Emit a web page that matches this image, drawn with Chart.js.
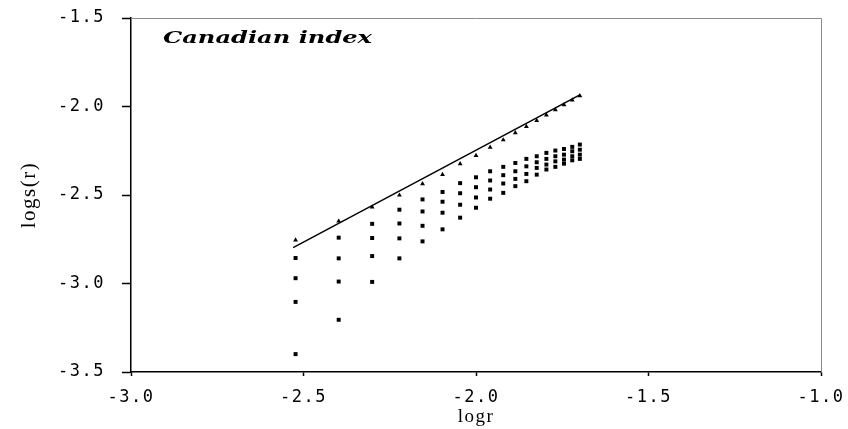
<!DOCTYPE html>
<html lang="en">
<head>
    <meta charset="UTF-8">
    <title>Canadian index</title>
    <script src="https://cdn.jsdelivr.net/npm/chart.js"></script>
    <style>
        html, body { margin: 0; padding: 0; background: #fff; }
        #wrap { width: 848px; height: 429px; }
    </style>
</head>
<body>
    <div id="wrap"><canvas id="chart" width="848" height="429"></canvas></div>

    <script>
        // log r for each column of points
        const logR = [-2.523, -2.398, -2.301, -2.222, -2.155, -2.097, -2.046, -2.000, -1.959,
                      -1.921, -1.886, -1.854, -1.824, -1.796, -1.770, -1.745, -1.721, -1.699];

        // log s(r), one array per series (top to bottom)
        const series1 = [-2.755, -2.648, -2.569, -2.501, -2.437, -2.385, -2.324, -2.277, -2.231,
                         -2.189, -2.149, -2.113, -2.080, -2.048, -2.019, -1.991, -1.964, -1.940];
        const series2 = [-2.856, -2.741, -2.663, -2.583, -2.525, -2.483, -2.433, -2.400, -2.366,
                         -2.341, -2.319, -2.296, -2.281, -2.262, -2.249, -2.240, -2.228, -2.215];
        const series3 = [-2.970, -2.858, -2.743, -2.661, -2.593, -2.538, -2.490, -2.456, -2.418,
                         -2.388, -2.366, -2.338, -2.315, -2.296, -2.281, -2.272, -2.253, -2.244];
        const series4 = [-3.104, -2.989, -2.845, -2.745, -2.674, -2.600, -2.555, -2.514, -2.469,
                         -2.435, -2.409, -2.381, -2.347, -2.328, -2.310, -2.300, -2.281, -2.272];
        const series5 = [-3.399, -3.205, -2.991, -2.858, -2.762, -2.694, -2.628, -2.572, -2.521,
                         -2.488, -2.450, -2.422, -2.385, -2.356, -2.341, -2.323, -2.304, -2.296];

        // fitted line end points
        const fitX = [-2.530, -1.699];
        const fitY = [-2.797, -1.934];

        const xTicks = [-3.0, -2.5, -2.0, -1.5, -1.0];
        const yTicks = [-3.5, -3.0, -2.5, -2.0, -1.5];
        const chartTitle = 'Canadian index';

        function pts(ys) {
            return ys.map((y, i) => ({ x: logR[i], y: y }));
        }

        const tickFont = { family: '"DejaVu Sans Mono"', size: 17 };

        // frame on top/right, spaced text, and the stretched italic title
        const decor = {
            id: 'decor',
            beforeDraw(chart) {
                chart.ctx.letterSpacing = '1.5px';
            },
            afterDraw(chart) {
                const ctx = chart.ctx;
                const a = chart.chartArea;
                ctx.save();
                ctx.letterSpacing = '0px';
                ctx.strokeStyle = '#8a8a8a';
                ctx.lineWidth = 1;
                ctx.beginPath();
                ctx.moveTo(a.left, a.top + 0.5);
                ctx.lineTo(a.right + 0.5, a.top + 0.5);
                ctx.lineTo(a.right + 0.5, a.bottom);
                ctx.stroke();

                ctx.font = 'bold italic 16px "DejaVu Serif"';
                ctx.fillStyle = '#000';
                ctx.textBaseline = 'middle';
                const w = ctx.measureText(chartTitle).width;
                ctx.translate(163, 39);
                ctx.scale(209 / w, 1);
                ctx.fillText(chartTitle, 0, 0);
                ctx.restore();
            }
        };

        function markerSet(data, style) {
            return {
                data: pts(data),
                pointStyle: style,
                pointRadius: 2.8,
                backgroundColor: '#000',
                borderColor: '#000',
                borderWidth: 0,
                showLine: false
            };
        }

        new Chart(document.getElementById('chart'), {
            type: 'scatter',
            data: {
                datasets: [
                    {
                        data: fitX.map((x, i) => ({ x: x, y: fitY[i] })),
                        showLine: true,
                        borderColor: '#000',
                        borderWidth: 1.5,
                        pointRadius: 0
                    },
                    markerSet(series1, 'triangle'),
                    markerSet(series2, 'rect'),
                    markerSet(series3, 'rect'),
                    markerSet(series4, 'rect'),
                    markerSet(series5, 'rect')
                ]
            },
            options: {
                responsive: false,
                animation: false,
                events: [],
                layout: { padding: { top: 18, right: 27, left: 0, bottom: 0 } },
                plugins: { legend: { display: false }, tooltip: { enabled: false } },
                scales: {
                    x: {
                        type: 'linear',
                        min: -3, max: -1,
                        afterBuildTicks: s => { s.ticks = xTicks.map(v => ({ value: v })); },
                        afterFit: s => {
                            s.height = 57;
                            s.paddingLeft = 0; s.paddingRight = 0;
                        },
                        grid: { drawOnChartArea: false, tickLength: 4, color: '#000', tickWidth: 1.5 },
                        border: { color: '#000', width: 1.5 },
                        ticks: {
                            color: '#000', font: tickFont, padding: 11, maxRotation: 0,
                            callback: v => v.toFixed(1)
                        },
                        title: {
                            display: true, text: 'logr', color: '#000',
                            font: { family: '"Liberation Serif"', size: 19 },
                            padding: { top: 0, bottom: 1 }
                        }
                    },
                    y: {
                        type: 'linear',
                        min: -3.5, max: -1.5,
                        afterBuildTicks: s => { s.ticks = yTicks.map(v => ({ value: v })); },
                        afterFit: s => {
                            s.width = 131;
                            s.paddingTop = 0; s.paddingBottom = 0;
                        },
                        grid: { drawOnChartArea: false, tickLength: 9, color: '#000', tickWidth: 1.5 },
                        border: { color: '#000', width: 1.5 },
                        ticks: {
                            color: '#000', font: tickFont, padding: 17,
                            callback: v => v.toFixed(1)
                        },
                        title: {
                            display: true, text: 'logs(r)', color: '#000',
                            font: { family: '"Liberation Serif"', size: 21 },
                            padding: { top: 17, bottom: 17 }
                        }
                    }
                }
            },
            plugins: [decor]
        });
    </script>
</body>
</html>
